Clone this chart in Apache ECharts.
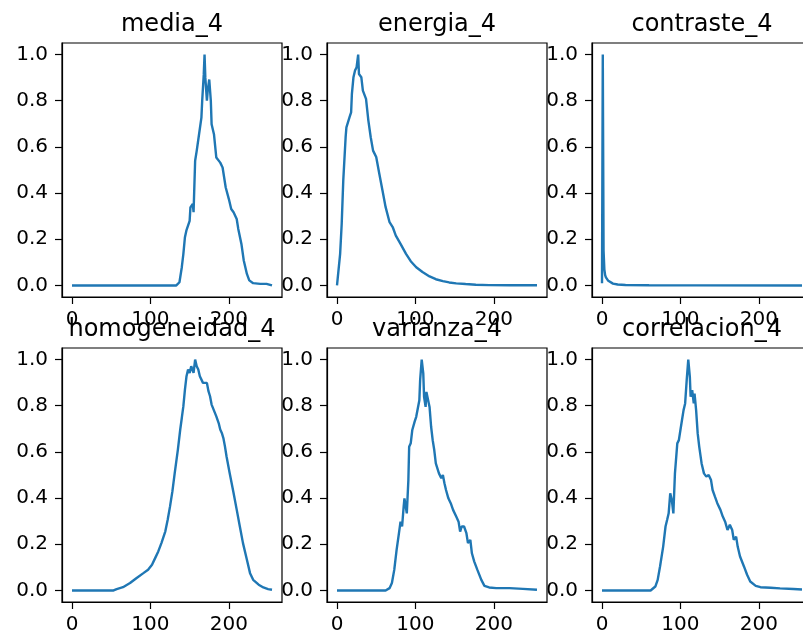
<!DOCTYPE html>
<html>
<head>
<meta charset="utf-8">
<script src="https://cdn.jsdelivr.net/npm/echarts@6/dist/echarts.min.js"></script>
<style>
  html, body { margin: 0; padding: 0; background: #fff; }
  #chart { width: 803px; height: 638px; }
</style>
</head>
<body>
<div id="chart"></div>
<script>
// Normalised histograms (bin index 0..255, value scaled to peak = 1)
const panelTitles = ['media_4', 'energia_4', 'contraste_4', 'homogeneidad_4', 'varianza_4', 'correlacion_4'];
const xTicks = [0, 100, 200];
const yTicks = [0, 0.2, 0.4, 0.6, 0.8, 1.0];

const mediaPts = [[0,0],[133,0],[137,0.014],[140,0.079],[142,0.137],[144,0.209],[146,0.24],[150,0.28],[151,0.338],[154,0.353],[155,0.317],[157,0.54],[159,0.583],[162,0.655],[165,0.727],[166,0.80],[168,0.914],[169,1.0],[170,0.90],[172,0.80],[173,0.842],[175,0.892],[177,0.80],[178,0.698],[181,0.655],[184,0.554],[189,0.532],[192,0.511],[196,0.424],[200,0.374],[203,0.331],[206,0.317],[210,0.288],[212,0.245],[214,0.252],[216,0.18],[219,0.108],[223,0.05],[226,0.022],[231,0.01],[240,0.007],[248,0.007],[255,0.0]];

const energiaPts = [[0,0],[2,0],[4,0.137],[6,0.267],[8,0.455],[11,0.642],[12,0.685],[16,0.729],[18,0.75],[19,0.83],[21,0.902],[23,0.931],[25,0.945],[27,1.0],[28,0.916],[31,0.902],[33,0.844],[37,0.808],[40,0.714],[43,0.642],[46,0.584],[50,0.556],[54,0.483],[58,0.411],[62,0.339],[67,0.274],[71,0.253],[75,0.216],[81,0.18],[88,0.137],[94,0.105],[101,0.079],[109,0.058],[118,0.039],[126,0.027],[135,0.019],[143,0.013],[152,0.009],[164,0.006],[177,0.003],[194,0.0015],[220,0.001],[255,0.001]];

const contrastePts = [[0,0.01],[1,1.0],[2,0.15],[3,0.07],[4,0.045],[5,0.035],[6,0.028],[8,0.02],[10,0.014],[14,0.008],[20,0.004],[30,0.002],[60,0.001],[120,0.0005],[255,0]];

const homogeneidadPts = [[0,0],[53,0],[57,0.006],[65,0.014],[74,0.032],[82,0.053],[91,0.075],[97,0.09],[102,0.111],[106,0.14],[110,0.169],[114,0.205],[119,0.256],[122,0.306],[125,0.364],[128,0.429],[131,0.509],[135,0.61],[138,0.697],[140,0.747],[142,0.798],[144,0.87],[146,0.928],[148,0.957],[150,0.942],[152,0.971],[155,0.942],[157,1.0],[159,0.971],[161,0.957],[163,0.928],[165,0.92],[167,0.899],[172,0.899],[174,0.863],[176,0.841],[178,0.805],[180,0.798],[184,0.754],[187,0.725],[189,0.697],[191,0.682],[193,0.66],[195,0.624],[197,0.581],[201,0.509],[206,0.422],[210,0.35],[214,0.277],[218,0.205],[223,0.133],[227,0.075],[231,0.046],[238,0.025],[244,0.013],[250,0.006],[255,0.003]];

const varianzaPts = [[0,0],[62,0],[67,0.01],[70,0.032],[73,0.089],[76,0.176],[79,0.248],[81,0.298],[83,0.277],[85,0.363],[86,0.399],[89,0.334],[91,0.478],[92,0.622],[94,0.637],[96,0.695],[99,0.731],[101,0.752],[103,0.788],[105,0.824],[106,0.911],[108,1.0],[110,0.94],[111,0.839],[113,0.795],[114,0.86],[116,0.853],[118,0.795],[120,0.709],[122,0.651],[124,0.608],[126,0.55],[130,0.507],[133,0.486],[135,0.5],[137,0.464],[139,0.435],[142,0.399],[145,0.378],[148,0.349],[152,0.32],[155,0.298],[157,0.255],[159,0.277],[162,0.277],[165,0.248],[167,0.205],[170,0.219],[172,0.161],[175,0.125],[179,0.089],[184,0.046],[188,0.02],[194,0.013],[203,0.01],[220,0.01],[237,0.007],[255,0.003]];

const correlacionPts = [[0,0],[62,0],[68,0.017],[71,0.046],[74,0.104],[78,0.19],[81,0.277],[83,0.305],[85,0.334],[87,0.421],[89,0.392],[91,0.334],[93,0.507],[96,0.637],[98,0.651],[100,0.695],[102,0.738],[104,0.781],[106,0.81],[108,0.911],[110,1.0],[112,0.925],[113,0.839],[115,0.867],[117,0.81],[118,0.853],[120,0.781],[122,0.68],[124,0.622],[127,0.55],[130,0.507],[133,0.493],[136,0.5],[139,0.478],[141,0.435],[144,0.406],[147,0.378],[151,0.349],[154,0.32],[157,0.298],[160,0.262],[163,0.284],[166,0.262],[168,0.219],[171,0.233],[173,0.19],[176,0.147],[181,0.104],[185,0.068],[189,0.039],[196,0.02],[202,0.014],[215,0.012],[227,0.009],[244,0.006],[255,0.004]];

const panelData = [mediaPts, energiaPts, contrastePts, homogeneidadPts, varianzaPts, correlacionPts];

// Layout of the 2 x 3 panel grid (the third column runs past the right edge)
const FONT = 'DejaVu Sans';
const colLeft = [62, 327, 592];
const panelW = 220;
const rowTop = [43, 348];
const panelH = 254;
const lineColor = '#1f77b4';
const frame = { color: '#000', width: 1.2 };

const grids = [], xAxes = [], yAxes = [], series = [], titles = [];
panelTitles.forEach((name, i) => {
  const r = Math.floor(i / 3), c = i % 3;
  grids.push({
    left: colLeft[c], top: rowTop[r], width: panelW, height: panelH,
    show: true, borderColor: '#000', borderWidth: 1.2, backgroundColor: 'transparent',
    containLabel: false, outerBoundsMode: 'none'
  });
  xAxes.push({
    type: 'value', gridIndex: i, min: -12.75, max: 267.75, position: 'bottom',
    splitLine: { show: false },
    axisLine: { show: true, onZero: false, lineStyle: frame },
    axisTick: { show: true, length: 7, customValues: xTicks, lineStyle: frame },
    axisLabel: { customValues: xTicks, fontSize: 20, fontFamily: FONT, color: '#000', margin: 13 }
  });
  yAxes.push({
    type: 'value', gridIndex: i, min: -0.05, max: 1.05, position: 'left',
    splitLine: { show: false },
    axisLine: { show: true, onZero: false, lineStyle: frame },
    axisTick: { show: true, length: 7, customValues: yTicks, lineStyle: frame },
    axisLabel: { customValues: yTicks, fontSize: 20, fontFamily: FONT, color: '#000', margin: 14,
                 formatter: v => v.toFixed(1) }
  });
  series.push({
    type: 'line', xAxisIndex: i, yAxisIndex: i, data: panelData[i],
    showSymbol: false, symbol: 'none', smooth: false, animation: false,
    lineStyle: { color: lineColor, width: 2.4 }
  });
  titles.push({
    text: name, left: colLeft[c] + panelW / 2, top: rowTop[r] - 30, textAlign: 'center', padding: 0,
    textStyle: { fontSize: 24, fontWeight: 'normal', fontFamily: FONT, color: '#000' }
  });
});

const chart = echarts.init(document.getElementById('chart'), null, { renderer: 'canvas' });
chart.setOption({
  backgroundColor: '#fff',
  animation: false,
  title: titles,
  grid: grids,
  xAxis: xAxes,
  yAxis: yAxes,
  series: series
});
</script>
</body>
</html>
